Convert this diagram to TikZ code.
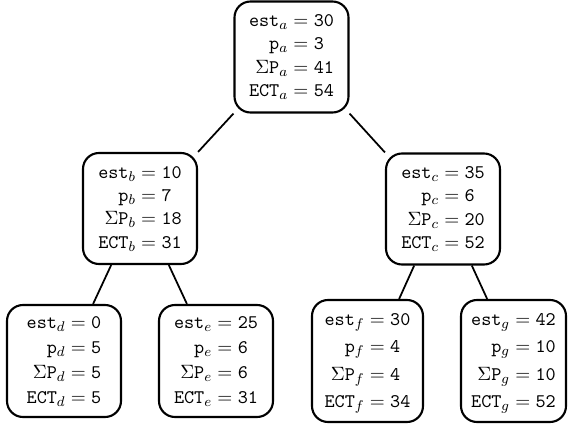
\documentclass[tikz,border=0pt]{standalone}
\usepackage{amsmath}
\usepackage{tikz}
\usetikzlibrary{positioning}

\newcommand{\jobvals}[5]{%
  $\begin{array}{@{}r@{{}={}}l@{}}
    \mathtt{est}_{#1}    & \mathtt{#2}\\
    \mathtt{p}_{#1}      & \mathtt{#3}\\
    \Sigma\mathtt{P}_{#1} & \mathtt{#4}\\
    \mathtt{ECT}_{#1}    & \mathtt{#5}
  \end{array}$}

\begin{document}
\begin{tikzpicture}[
  job/.style={draw, line width=1.2pt, rounded corners=0.32cm,
              minimum width=2.28cm, minimum height=2.22cm,
              font=\fontsize{11}{13.3}\selectfont, inner sep=2pt},
  leaf/.style={font=\fontsize{11}{14.2}\selectfont, minimum height=2.24cm},
  tall/.style={font=\fontsize{11}{15.6}\selectfont, minimum height=2.44cm},
  edge/.style={line width=1pt},
]
  \useasboundingbox (0,0) rectangle (11.38,-8.52);

  \node[job]       (a) at (5.83,-1.14) {\jobvals{a}{30}{3}{41}{54}};
  \node[job]       (b) at (2.80,-4.17) {\jobvals{b}{10}{7}{18}{31}};
  \node[job]       (c) at (8.86,-4.18) {\jobvals{c}{35}{6}{20}{52}};
  \node[job, leaf] (d) at (1.28,-7.22) {\jobvals{d}{0}{5}{5}{5}};
  \node[job, leaf] (e) at (4.32,-7.22) {\jobvals{e}{25}{6}{6}{31}};
  \node[job, tall, minimum width=2.22cm] (f) at (7.35,-7.22) {\jobvals{f}{30}{4}{4}{34}};
  \node[job, tall, minimum width=2.10cm] (g) at (10.27,-7.22) {\jobvals{g}{42}{10}{10}{52}};

  \draw[edge] (a.south west) -- (b.north east);
  \draw[edge] (a.south east) -- (c.north west);
  \draw[edge] (b.243) -- (d.63);
  \draw[edge] (b.297) -- (e.117);
  \draw[edge] (c.243) -- (f.63);
  \draw[edge] (c.297) -- (g.113);
\end{tikzpicture}
\end{document}
